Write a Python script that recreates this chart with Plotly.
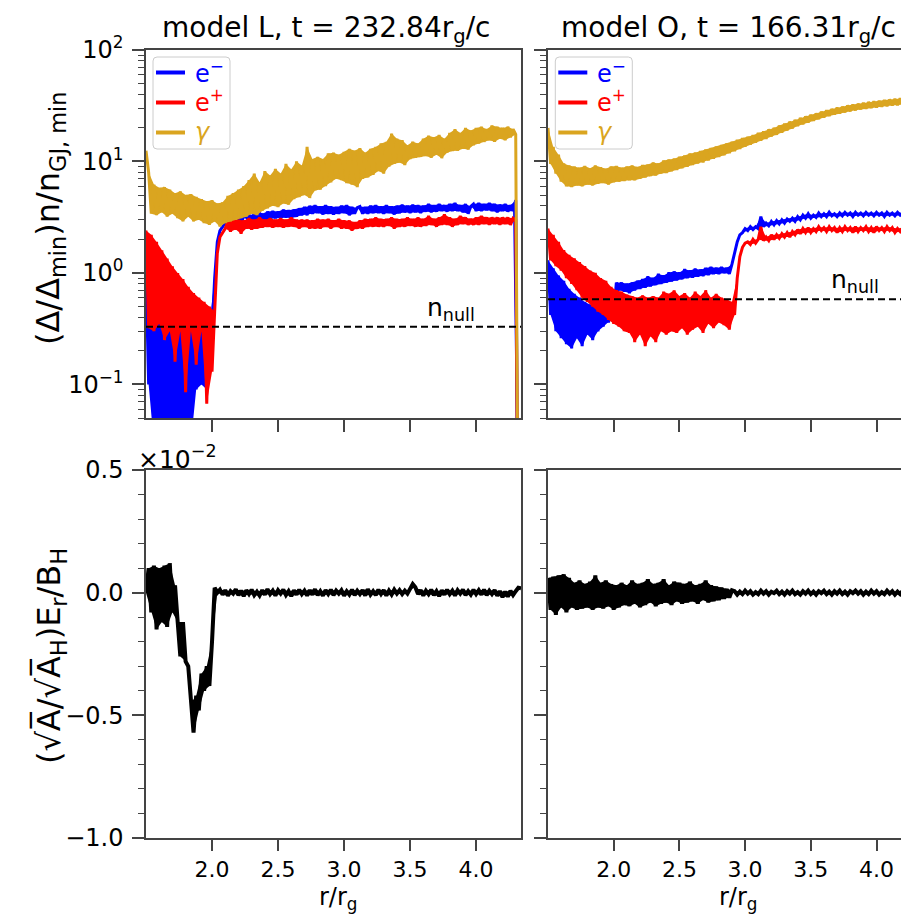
import math
import plotly.graph_objects as go

# ---------------- data ----------------
R = [1.50, 1.52, 1.54, 1.56, 1.58, 1.60, 1.62, 1.64, 1.66, 1.68,
     1.70, 1.72, 1.74, 1.76, 1.78, 1.80, 1.82, 1.84, 1.86, 1.88,
     1.90, 1.92, 1.94, 1.96, 1.98, 2.00, 2.02, 2.04, 2.06, 2.08,
     2.10, 2.12, 2.14, 2.16, 2.18, 2.20, 2.22, 2.24, 2.26, 2.28,
     2.30, 2.32, 2.34, 2.36, 2.38, 2.40, 2.42, 2.44, 2.46, 2.48,
     2.50, 2.52, 2.54, 2.56, 2.58, 2.60, 2.62, 2.64, 2.66, 2.68,
     2.70, 2.72, 2.74, 2.76, 2.78, 2.80, 2.82, 2.84, 2.86, 2.88,
     2.90, 2.92, 2.94, 2.96, 2.98, 3.00, 3.02, 3.04, 3.06, 3.08,
     3.10, 3.12, 3.14, 3.16, 3.18, 3.20, 3.22, 3.24, 3.26, 3.28,
     3.30, 3.32, 3.34, 3.36, 3.38, 3.40, 3.42, 3.44, 3.46, 3.48,
     3.50, 3.52, 3.54, 3.56, 3.58, 3.60, 3.62, 3.64, 3.66, 3.68,
     3.70, 3.72, 3.74, 3.76, 3.78, 3.80, 3.82, 3.84, 3.86, 3.88,
     3.90, 3.92, 3.94, 3.96, 3.98, 4.00, 4.02, 4.04, 4.06, 4.08,
     4.10, 4.12, 4.14, 4.16, 4.18, 4.20, 4.22, 4.24, 4.26, 4.28,
     4.30, 4.32, 4.34]

# model L : electrons, positrons, photons  (Delta/Delta_min) n / n_GJ,min
elec_L = [1.0,
          0.1, 0.6, 0.03, 0.5, 0.03, 0.45, 0.03, 0.4, 0.03, 0.38,
          0.03, 0.36, 0.03, 0.35, 0.03, 0.34, 0.03, 0.33, 0.09, 0.33,
          0.1, 0.32, 0.09, 0.34, 0.3, 0.9, 1.9, 2.4, 2.6, 2.8,
          3.2, 2.7, 3.2, 2.75, 3.3, 2.8, 3.2, 3.5, 2.85, 3.3,
          2.95, 3.8, 3.0, 3.4, 2.95, 3.55, 3.05, 3.6, 3.1, 3.55,
          3.1, 3.7, 3.15, 3.65, 3.1, 3.7, 3.2, 3.8, 3.3, 3.9,
          3.3, 4.0, 3.4, 4.05, 3.45, 3.95, 3.35, 4.05, 3.4, 3.95,
          3.35, 3.9, 3.4, 4.0, 3.45, 4.05, 3.3, 3.9, 3.4, 3.85,
          3.95, 3.4, 3.9, 3.4, 4.0, 3.45, 4.05, 3.45, 3.95, 3.4,
          4.05, 3.45, 3.95, 3.35, 4.0, 3.45, 4.1, 3.5, 4.0, 3.45,
          4.1, 3.5, 4.05, 3.45, 4.0, 3.55, 4.15, 3.5, 4.05, 3.55,
          4.15, 3.6, 4.05, 3.55, 4.15, 3.6, 4.25, 3.6, 4.05, 3.5,
          4.15, 3.4, 3.95, 4.15, 3.6, 4.25, 3.6, 4.15, 3.65, 4.25,
          3.6, 4.15, 3.5, 4.1, 3.6, 4.15, 3.55, 4.05, 3.6, 4.5,
          0.001, 0.001]
posi_L = [2.4,
          0.32, 2.2, 0.3, 1.9, 0.35, 1.6, 0.25, 1.35, 0.3, 1.15,
          0.16, 1.0, 0.3, 0.88, 0.085, 0.75, 0.3, 0.66, 0.15, 0.6,
          0.3, 0.55, 0.067, 0.5, 0.13, 0.45, 1.5, 2.1, 2.3, 2.5,
          2.9, 2.35, 3.0, 2.45, 3.0, 2.25, 2.95, 2.5, 3.1, 2.45,
          3.0, 2.5, 3.15, 2.55, 3.0, 2.6, 3.1, 2.55, 3.0, 2.6,
          3.1, 2.55, 3.0, 2.6, 3.15, 2.6, 3.0, 2.5, 3.0, 2.6,
          3.0, 2.5, 2.95, 2.5, 3.05, 2.5, 3.0, 2.6, 3.05, 2.5,
          2.95, 2.6, 3.05, 2.5, 2.95, 2.5, 2.95, 2.4, 2.85, 2.5,
          2.95, 2.5, 3.05, 2.6, 3.05, 2.6, 3.15, 2.6, 3.05, 2.6,
          3.05, 2.65, 3.15, 2.5, 3.05, 2.6, 3.05, 2.6, 3.15, 2.65,
          3.05, 2.6, 3.15, 2.6, 3.05, 2.65, 3.25, 2.7, 3.05, 2.6,
          3.15, 2.7, 3.35, 2.7, 3.15, 2.6, 3.05, 2.7, 3.25, 2.75,
          3.15, 2.7, 3.05, 2.7, 3.15, 2.7, 3.25, 2.75, 3.15, 2.7,
          3.15, 2.75, 3.15, 2.7, 3.15, 2.75, 3.15, 2.7, 3.1, 3.0,
          0.001, 0.001]
phot_L = [12.5,
          8.0, 3.4, 6.2, 3.3, 5.8, 3.5, 5.9, 3.2, 5.6, 3.4,
          5.2, 3.1, 5.4, 2.9, 5.0, 3.2, 5.1, 2.9, 4.8, 3.0,
          4.6, 2.8, 4.4, 2.7, 4.5, 2.9, 4.2, 2.6, 4.3, 2.8,
          4.9, 2.9, 5.2, 3.0, 5.6, 3.1, 6.0, 3.2, 6.8, 3.4,
          7.8, 3.3, 6.5, 3.6, 8.2, 3.8, 7.5, 4.0, 8.6, 3.9,
          7.8, 4.2, 9.5, 4.1, 8.5, 4.6, 10.0, 4.8, 9.2, 5.0,
          13.5, 4.7, 10.5, 5.5, 11.0, 5.6, 10.5, 6.0, 11.8, 6.5,
          12.0, 7.0, 11.5, 6.8, 12.2, 6.4, 13.0, 6.2, 12.5, 5.9,
          13.2, 7.0, 12.0, 7.2, 13.0, 7.6, 13.5, 8.2, 14.5, 7.8,
          15.0, 9.0, 17.8, 9.5, 16.0, 9.8, 15.5, 9.3, 14.0, 10.5,
          15.0, 10.8, 14.5, 11.0, 16.0, 11.2, 17.0, 10.8, 16.5, 11.5,
          17.3, 10.7, 16.0, 12.0, 18.0, 12.4, 19.5, 12.5, 18.0, 13.0,
          20.0, 12.8, 19.0, 14.0, 20.0, 14.5, 20.5, 15.0, 19.5, 15.5,
          21.0, 15.0, 20.5, 16.0, 20.0, 15.5, 20.5, 16.5, 19.5, 17.5,
          0.001, 0.001]

# model O
elec_O = [1.3, 0.42, 1.1, 0.3, 0.95, 0.26, 0.85, 0.23, 0.72, 0.21,
          0.65, 0.26, 0.6, 0.22, 0.55, 0.28, 0.52, 0.25, 0.5, 0.3,
          0.48, 0.33, 0.47, 0.36, 0.45, 0.4, 0.82, 0.7, 0.82, 0.68,
          0.8, 0.66, 0.82, 0.7, 0.85, 0.72, 0.88, 0.74, 0.93, 0.76,
          0.9, 0.78, 0.98, 0.8, 0.95, 0.82, 1.01, 0.84, 1.03, 0.86,
          1.01, 0.88, 1.08, 0.9, 1.05, 0.91, 1.09, 0.93, 1.07, 0.94,
          1.11, 0.96, 1.13, 0.98, 1.11, 0.98, 1.13, 1.0, 1.11, 0.98,
          1.2, 1.5, 1.9, 2.2, 2.3, 2.5, 2.4, 2.6, 2.45, 2.6,
          2.5, 3.2, 2.6, 2.8, 2.65, 2.9, 2.7, 2.95, 2.75, 3.0,
          2.8, 3.05, 2.9, 3.1, 2.9, 3.2, 3.0, 3.3, 3.1, 3.4,
          3.1, 3.3, 3.15, 3.45, 3.2, 3.4, 3.2, 3.5, 3.25, 3.4,
          3.2, 3.45, 3.25, 3.5, 3.3, 3.45, 3.2, 3.5, 3.3, 3.45,
          3.25, 3.5, 3.3, 3.45, 3.25, 3.5, 3.3, 3.45, 3.2, 3.5,
          3.3, 3.45, 3.25, 3.5, 3.3, 3.45, 3.25, 3.5, 3.3, 3.4,
          3.2, 3.4, 3.3]
posi_O = [2.5, 1.3, 2.2, 1.15, 1.9, 1.05, 1.6, 0.9, 1.45, 0.8,
          1.35, 0.7, 1.25, 0.6, 1.15, 0.55, 1.05, 0.5, 1.0, 0.45,
          0.9, 0.42, 0.85, 0.38, 0.75, 0.35, 0.7, 0.33, 0.68, 0.3,
          0.64, 0.29, 0.62, 0.24, 0.6, 0.28, 0.63, 0.22, 0.6, 0.27,
          0.62, 0.24, 0.6, 0.3, 0.68, 0.28, 0.65, 0.3, 0.7, 0.29,
          0.62, 0.32, 0.66, 0.28, 0.6, 0.31, 0.68, 0.33, 0.62, 0.29,
          0.7, 0.35, 0.6, 0.32, 0.65, 0.36, 0.6, 0.34, 0.58, 0.31,
          0.55, 0.42, 0.9, 1.4, 1.7, 1.85, 1.9, 1.8, 2.0, 1.85,
          2.0, 2.6, 1.95, 2.1, 1.95, 2.2, 2.0, 2.2, 2.05, 2.25,
          2.1, 2.3, 2.1, 2.35, 2.2, 2.45, 2.25, 2.5, 2.3, 2.55,
          2.3, 2.5, 2.35, 2.6, 2.4, 2.55, 2.35, 2.6, 2.4, 2.55,
          2.3, 2.55, 2.35, 2.6, 2.4, 2.55, 2.3, 2.6, 2.35, 2.55,
          2.4, 2.6, 2.35, 2.55, 2.3, 2.6, 2.4, 2.55, 2.35, 2.6,
          2.4, 2.55, 2.3, 2.5, 2.35, 2.55, 2.3, 2.5, 2.35, 2.5,
          2.3, 2.45, 2.4]
phot_O = [20.0, 9.5, 13.5, 7.8, 11.5, 6.6, 9.6, 6.0, 9.2, 5.9,
          9.0, 6.1, 8.8, 6.0, 9.1, 6.2, 8.7, 6.1, 9.2, 6.3,
          8.9, 6.4, 8.6, 6.2, 9.0, 6.5, 9.1, 6.6, 8.8, 6.7,
          9.0, 6.8, 9.2, 6.8, 8.9, 7.0, 9.3, 7.2, 9.4, 7.4,
          9.8, 7.5, 9.6, 7.8, 10.2, 7.9, 10.4, 8.2, 10.6, 8.4,
          11.0, 8.7, 11.3, 9.0, 11.8, 9.3, 12.0, 9.6, 12.4, 9.8,
          12.8, 10.2, 13.2, 10.6, 13.6, 11.0, 14.0, 11.4, 14.5, 11.9,
          15.0, 12.4, 15.6, 13.0, 16.2, 13.6, 16.6, 14.2, 17.2, 14.8,
          18.0, 15.4, 18.6, 16.0, 19.4, 16.8, 20.0, 17.4, 21.0, 18.2,
          21.8, 19.0, 22.8, 19.8, 23.6, 20.8, 24.6, 21.6, 25.4, 22.4,
          26.2, 23.2, 27.0, 24.0, 28.0, 24.8, 28.8, 25.6, 29.6, 26.4,
          30.4, 27.0, 31.0, 27.6, 31.8, 28.2, 32.4, 28.8, 33.0, 29.4,
          33.6, 29.8, 34.2, 30.2, 34.6, 30.6, 35.0, 31.0, 35.6, 31.4,
          36.0, 31.8, 36.4, 32.0, 36.8, 32.4, 37.2, 32.6, 37.4, 33.0,
          37.6, 33.2, 37.8]

# (sqrt(A)/sqrt(A_H)) E_r / B_H   in units of 1e-2
Er_L = [0.0, 0.10, -0.08, 0.11, -0.15, 0.10, -0.12, 0.11, -0.14, 0.12,
        -0.08, 0.03, -0.12, -0.26, -0.12, -0.28, -0.30, -0.45, -0.57, -0.42,
        -0.48, -0.33, -0.40, -0.30, -0.38, -0.20, 0.02, 0.0,
        0.012, -0.008, 0.010, -0.012, 0.006, -0.004, 0.014, -0.010, 0.008, -0.014,
        0.010, -0.006, 0.012, -0.010, 0.004, -0.012, 0.010, -0.008, 0.014, -0.006,
        0.008, -0.012, 0.010, -0.004, 0.012, -0.010, 0.006, -0.014, 0.010, -0.008,
        0.012, -0.006, 0.008, -0.012, 0.010, -0.008, 0.014, -0.010, 0.006, -0.012,
        0.010, -0.006, 0.012, -0.010, 0.008, -0.004, 0.010, -0.012, 0.006, -0.008,
        0.012, -0.010, 0.008, -0.006, 0.010, -0.012, 0.014, -0.008, 0.006, -0.010,
        0.012, -0.006, 0.010, -0.012, 0.008, -0.008, 0.012, -0.004, 0.010, -0.006,
        0.008, -0.004, 0.012, 0.035, 0.022, -0.006, 0.010, -0.012, 0.008, -0.006,
        0.012, -0.010, 0.006, -0.014, 0.010, -0.008, 0.012, -0.006, 0.008, -0.012,
        0.010, -0.004, 0.012, -0.010, 0.006, -0.008, 0.012, -0.006, 0.010, -0.008,
        0.012, -0.010, 0.008, -0.006, 0.010, -0.012, 0.006, -0.018, 0.004, -0.016,
        0.008, -0.010, 0.006, 0.020, 0.018]
Er_O = [0.06, -0.07, 0.065, -0.09, 0.07, -0.06, 0.075, -0.08, 0.06, -0.06,
        0.04, -0.07, 0.05, -0.065, 0.035, -0.06, 0.045, -0.07, 0.07, -0.06,
        0.04, -0.065, 0.05, -0.055, 0.035, -0.07, 0.03, -0.06, 0.04, -0.05,
        0.03, -0.055, 0.05, -0.045, 0.035, -0.06, 0.04, -0.05, 0.055, -0.04,
        0.035, -0.055, 0.04, -0.045, 0.055, -0.04, 0.03, -0.05, 0.045, -0.035,
        0.04, -0.045, 0.035, -0.04, 0.045, -0.035, 0.03, -0.045, 0.035, -0.03,
        0.05, -0.04, 0.03, -0.035, 0.025, -0.03, 0.02, -0.025, 0.015, -0.02,
        0.01,
        0.006, -0.008, 0.004, -0.006, 0.008, -0.004, 0.006, -0.008, 0.002, -0.006,
        0.008, -0.004, 0.006, -0.008, 0.004, -0.002, 0.008, -0.006, 0.004, -0.008,
        0.006, -0.004, 0.008, -0.006, 0.002, -0.008, 0.006, -0.004, 0.008, -0.006,
        0.004, -0.008, 0.006, -0.002, 0.008, -0.006, 0.004, -0.008, 0.006, -0.004,
        0.008, -0.006, 0.004, -0.008, 0.006, -0.002, 0.008, -0.004, 0.006, -0.008,
        0.004, -0.006, 0.008, -0.004, 0.006, -0.008, 0.002, -0.006, 0.008, -0.004,
        0.006, -0.008, 0.004, -0.006, 0.008, -0.002, 0.006, -0.008, 0.004, -0.006,
        0.008, 0.012]

N_NULL = {"L": 0.33, "O": 0.58}
TITLES = {"L": "model L, t = 232.84r<sub>g</sub>/c",
          "O": "model O, t = 166.31r<sub>g</sub>/c"}
LEGEND_LABELS = ["e<sup>−</sup>", "e<sup>+</sup>", "<i>γ</i>"]
X_TICKS = [2.0, 2.5, 3.0, 3.5, 4.0]
X_TICKTEXT = ["2.0", "2.5", "3.0", "3.5", "4.0"]
LOG_TICKS = [0.1, 1, 10, 100]
LOG_TICKTEXT = ["10<sup>−1</sup>", "10<sup>0</sup>", "10<sup>1</sup>", "10<sup>2</sup>"]
E_TICKS = [-1.0, -0.5, 0.0, 0.5]
E_TICKTEXT = ["−1.0", "−0.5", "0.0", "0.5"]

for arr in (elec_L, posi_L, phot_L, elec_O, posi_O, phot_O, Er_L, Er_O):
    assert len(arr) == len(R), len(arr)

# ---------------- figure ----------------
BLUE, RED, GOLD = "#0000ff", "#ff0000", "#daa520"
COLORS = [BLUE, RED, GOLD]
FONT = "DejaVu Sans"
W, H = 909, 916
ML, MT, MB = 138, 42, 86
PW, PH = W - ML, H - MT - MB
PANEL_LEFT = {"L": 138.0, "O": 540.3}


def px_x(p):
    return (p - ML) / PW


def px_y(p):
    return (H - MB - p) / PH


def band(x, y):
    """Polygon between the local maxima and local minima of a noisy series."""
    n = len(y)
    ux, uy, lx, ly = [], [], [], []
    for i in range(n):
        is_max = 0 < i < n - 1 and y[i] > y[i - 1] and y[i] > y[i + 1]
        is_min = 0 < i < n - 1 and y[i] < y[i - 1] and y[i] < y[i + 1]
        if not is_min:
            ux.append(x[i]); uy.append(y[i])
        if not is_max:
            lx.append(x[i]); ly.append(y[i])
    return ux + lx[::-1], uy + ly[::-1]


fig = go.Figure()


def add_series(x, y, col, width, xa, ya):
    bx, by = band(x, y)
    fig.add_trace(go.Scatter(x=bx, y=by, mode="lines", fill="toself", fillcolor=col,
                             line=dict(width=0, color=col), xaxis=xa, yaxis=ya,
                             showlegend=False, hoverinfo="skip"))
    fig.add_trace(go.Scatter(x=x, y=y, mode="lines", xaxis=xa, yaxis=ya,
                             line=dict(color=col, width=width), showlegend=False))


panels = [("L", "x", "y", elec_L, posi_L, phot_L),
          ("O", "x2", "y2", elec_O, posi_O, phot_O)]
for key, xa, ya, ee, pp, gg in panels:
    for data, col in zip((ee, pp, gg), COLORS):
        add_series(R, data, col, 3, xa, ya)
    fig.add_trace(go.Scatter(x=[R[0], R[-1]], y=[N_NULL[key], N_NULL[key]], mode="lines",
                             xaxis=xa, yaxis=ya, showlegend=False,
                             line=dict(color="black", width=2, dash="7px,4px")))

add_series(R, Er_L, "black", 4, "x3", "y3")
add_series(R, Er_O, "black", 4, "x4", "y4")

AX = dict(showline=True, linecolor="#444", linewidth=1.5, ticks="outside",
          ticklen=12, tickwidth=1.5, tickcolor="#444", showgrid=False,
          zeroline=False, tickfont=dict(family=FONT, size=24, color="black"))

xl_dom = [0, px_x(513)]
xr_dom = [px_x(540), 1.0]
yt_dom = [px_y(410), 1.0]
yb_dom = [0, px_y(462)]
xr_range = [1.5, 1.5 + (W - 540) / 131.4]

minor_log = [0.05, 0.06, 0.07, 0.08, 0.09] + [k / 10 for k in range(2, 10)] + \
            list(range(2, 10)) + [10 * k for k in range(2, 10)]
minor_log_cfg = dict(tickmode="array", tickvals=minor_log, ticks="outside",
                     ticklen=6, tickwidth=1.2, tickcolor="#444")
minor_lin_cfg = dict(dtick=0.1, tick0=0, ticks="outside", ticklen=6,
                     tickwidth=1.2, tickcolor="#444")
XTF = dict(family=FONT, size=22, color="black")

fig.update_layout(
    width=W, height=H, margin=dict(l=ML, r=0, t=MT, b=MB),
    plot_bgcolor="white", paper_bgcolor="white", showlegend=False,
    font=dict(family=FONT, size=22, color="black"),
    xaxis=dict(AX, domain=xl_dom, range=[1.5, 4.34], tickvals=X_TICKS,
               showticklabels=False, mirror=True, anchor="y"),
    xaxis2=dict(AX, domain=xr_dom, range=xr_range, tickvals=X_TICKS,
                showticklabels=False, mirror=True, anchor="y2"),
    xaxis3=dict(AX, domain=xl_dom, range=[1.5, 4.34], tickvals=X_TICKS,
                ticktext=X_TICKTEXT, mirror=True, anchor="y3", tickfont=XTF,
                ticklen=11),
    xaxis4=dict(AX, domain=xr_dom, range=xr_range, tickvals=X_TICKS,
                ticktext=X_TICKTEXT, mirror=True, anchor="y4", tickfont=XTF,
                ticklen=11),
    yaxis=dict(AX, domain=yt_dom, type="log", range=[math.log10(0.05), 2],
               tickvals=LOG_TICKS, ticktext=LOG_TICKTEXT, mirror=True,
               anchor="x", minor=minor_log_cfg, ticklabelstandoff=4),
    yaxis2=dict(AX, domain=yt_dom, type="log", range=[math.log10(0.05), 2],
                tickvals=LOG_TICKS, showticklabels=False, anchor="x2",
                minor=minor_log_cfg),
    yaxis3=dict(AX, domain=yb_dom, range=[-1.0, 0.5], tickvals=E_TICKS,
                ticktext=E_TICKTEXT, mirror=True, anchor="x3", minor=minor_lin_cfg,
                ticklabelstandoff=4),
    yaxis4=dict(AX, domain=yb_dom, range=[-1.0, 0.5], tickvals=E_TICKS,
                showticklabels=False, anchor="x4", minor=minor_lin_cfg),
)

# ---- legends (drawn as a framed box with line samples and coloured labels) ----
shapes = []
ann = []


def rounded_box(x0, x1, y0, y1, rad=4):
    X0, X1, Yt, Yb = px_x(x0), px_x(x1), px_y(y0), px_y(y1)
    rx, ry = rad / PW, rad / PH
    return (f"M {X0 + rx},{Yt} L {X1 - rx},{Yt} Q {X1},{Yt} {X1},{Yt - ry} "
            f"L {X1},{Yb + ry} Q {X1},{Yb} {X1 - rx},{Yb} L {X0 + rx},{Yb} "
            f"Q {X0},{Yb} {X0},{Yb + ry} L {X0},{Yt - ry} Q {X0},{Yt} {X0 + rx},{Yt} Z")


for key in ("L", "O"):
    p0 = PANEL_LEFT[key]
    shapes.append(dict(type="path", xref="paper", yref="paper", layer="above",
                       path=rounded_box(p0 + 7, p0 + 84, 49, 141),
                       fillcolor="rgba(255,255,255,0.8)",
                       line=dict(color="#cccccc", width=1)))
    for k, (lbl, col) in enumerate(zip(LEGEND_LABELS, COLORS)):
        yc = 64.5 + 30 * k
        shapes.append(dict(type="line", xref="paper", yref="paper", layer="above",
                           x0=px_x(p0 + 10), x1=px_x(p0 + 39), y0=px_y(yc), y1=px_y(yc),
                           line=dict(color=col, width=4)))
        ann.append(dict(text=f'<span style="color:{col}">{lbl}</span>',
                        x=px_x(p0 + 47), y=px_y(yc - 1), xref="paper", yref="paper",
                        showarrow=False, xanchor="left", yanchor="middle",
                        font=dict(family=FONT, size=24, color=col)))

for key, cx in (("L", 318), ("O", 720)):
    ann.append(dict(text=TITLES[key], x=px_x(cx), y=px_y(21), xref="paper", yref="paper",
                    showarrow=False, xanchor="center", yanchor="middle",
                    font=dict(family=FONT, size=28)))
ann.append(dict(text="(Δ/Δ<sub>min</sub>)n/n<sub>GJ, min</sub>", x=px_x(42), y=px_y(210),
                xref="paper", yref="paper", showarrow=False, textangle=-90,
                xanchor="center", yanchor="middle", font=dict(family=FONT, size=32)))
ann.append(dict(text="(√A̅/√A̅<sub>H</sub>)E<sub>r</sub>/B<sub>H</sub>", x=px_x(42), y=px_y(648),
                xref="paper", yref="paper", showarrow=False, textangle=-90,
                xanchor="center", yanchor="middle", font=dict(family=FONT, size=32)))
for cx in (330, 730):
    ann.append(dict(text="r/r<sub>g</sub>", x=px_x(cx), y=px_y(891), xref="paper",
                    yref="paper", showarrow=False, xanchor="center", yanchor="middle",
                    font=dict(family=FONT, size=24)))
ann.append(dict(text="×10<sup>−2</sup>", x=px_x(128), y=px_y(449), xref="paper",
                yref="paper", showarrow=False, xanchor="left", yanchor="middle",
                font=dict(family=FONT, size=25)))
ann.append(dict(text="n<sub>null</sub>", x=3.81, y=math.log10(N_NULL["L"]), xref="x",
                yref="y", showarrow=False, xanchor="center", yanchor="bottom",
                font=dict(family=FONT, size=25)))
ann.append(dict(text="n<sub>null</sub>", x=3.84, y=math.log10(N_NULL["O"]), xref="x2",
                yref="y2", showarrow=False, xanchor="center", yanchor="bottom",
                font=dict(family=FONT, size=25)))
fig.update_layout(annotations=ann, shapes=shapes)

fig.write_html("out.html")
